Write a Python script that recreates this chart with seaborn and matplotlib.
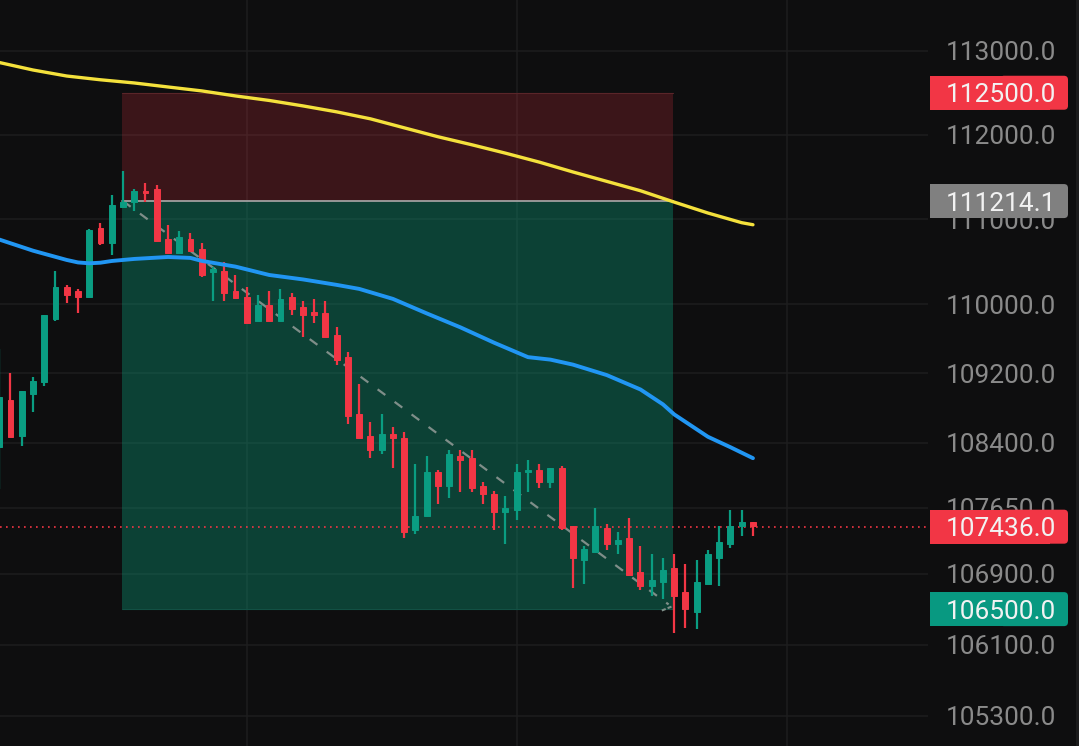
import matplotlib
matplotlib.use("Agg")
import matplotlib.pyplot as plt
from matplotlib.patches import FancyBboxPatch, Rectangle
from matplotlib.transforms import IdentityTransform
from matplotlib.ticker import NullLocator
import numpy as np
import pandas as pd
import seaborn as sns

# ---------- data ----------
candle_index = list(range(-11, 57))
opens = [108346,108885,108472,108954,109093,109833,110205,110158,110088,110897,110720,
         111144,111203,111333,111357,110767,110603,110767,110650,110380,110392,110158,110088,
         109809,109995,109809,110088,109972,109914,109902,109647,109393,108724,108472,108312,
         108495,108449,107401,107560,108061,107901,108243,108220,107901,107810,107605,107628,
         108061,108084,107947,108107,107446,107062,107152,107423,107243,107310,106925,106767,
         106812,106971,106699,106473,106790,107084,107243,107446,107492]
closes = [108920,108461,108989,109116,109879,110205,110112,110088,110873,110720,111168,
          111203,111333,111310,110743,110603,110791,110626,110345,110416,110135,110077,109786,
          109995,109809,110065,109949,109879,109879,109624,109358,108701,108449,108312,108495,
          108449,107378,107560,108061,107901,108266,108198,107878,107810,107605,107651,108061,
          108084,107947,108107,107423,107084,107186,107446,107243,107288,106891,106767,106835,
          106948,106654,106496,106812,107130,107265,107446,107492,107446]
highs = [109483,109208,109000,109162,109879,110392,110229,110182,110885,110956,111286,
         111569,111357,111428,111404,110932,110861,110838,110720,110439,110498,110345,110205,
         110112,110158,110182,110135,110042,110065,110042,109740,109450,109070,108632,108724,
         108575,108518,108152,108243,108084,108312,108312,108312,107947,107844,107787,108152,
         108198,108152,108107,108129,107446,107220,107651,107469,107378,107537,107220,107130,
         107084,107130,107016,107062,107175,107446,107628,107628,107492]
lows = [107867,108461,108357,108747,109047,109809,110019,109902,110088,110697,110580,
        111144,111097,111203,110743,110603,110603,110626,110322,110042,110042,110077,109786,
        109809,109809,109809,109879,109624,109786,109624,109300,108609,108449,108220,108266,
        108107,107310,107356,107560,107696,107764,107833,107833,107696,107401,107243,107515,
        107833,107878,107878,107401,106744,106790,107152,107175,107130,106880,106722,106654,
        106609,106225,106292,106270,106790,106767,107197,107333,107333]

blue_index = [-11,-8,-5,-4,-3,-2,-1,1,4,6,7,10,13,16,19,21,24,27,30,33,36,38,40,43,46,48,49,52,54,56]
blue_ma = [110761,110630,110521,110492,110482,110489,110509,110533,110556,110545,110510,
           110443,110345,110293,110229,110182,110065,109896,109733,109554,109387,109358,
           109300,109179,109012,108840,108724,108466,108346,108220]
yellow_index = [-11,-8,-5,-2,1,4,7,10,13,16,19,22,25,28,31,34,37,40,43,46,49,52,55,56]
yellow_ma = [112862,112772,112700,112655,112617,112569,112522,112462,112408,112343,112272,
             112189,112082,111976,111881,111781,111675,111558,111447,111336,111202,111073,
             110959,110935]

y_ticks = [113000,112000,111000,110000,109200,108400,107650,106900,106100,105300]
y_tick_labels = [f"{v:.1f}" for v in y_ticks]

stop_price = 112500.0
entry_price = 111214.1
target_price = 106500.0
last_price = 107436.0
box_start, box_end = -0.1, 48.9
path_index = [0, 48.5]
path_price = [111214, 106553]
head_index = [47.9, 49]
head_price = [106484, 106541]
time_grid = [11, 35, 59]

# ---------- style ----------
BG = "#0e0e0f"
GRID = "#1d1d1e"
UP = "#0a9d82"
DOWN = "#f23645"
LABEL = "#8a8a8a"
FONT_SIZE = 18.9

sns.set_theme(style="dark", rc={"axes.facecolor": BG, "figure.facecolor": BG})
plt.rcParams["font.family"] = ["Roboto", "DejaVu Sans"]
plt.rcParams["ytick.major.pad"] = 13

W, H = 1079, 746
fig = plt.figure(figsize=(W / 100, H / 100), dpi=100)
ax = fig.add_axes([0, 0, 928 / W, 1])
ax.set_yscale("log")
ax.set_ylim(104964, 113613)
ax.set_xlim(-10.933, 71.56)
ax.set_axisbelow(True)

for s in ax.spines.values():
    s.set_visible(False)

ax.yaxis.tick_right()
ax.set_yticks(y_ticks)
ax.set_yticklabels(y_tick_labels, color=LABEL, fontsize=FONT_SIZE)
ax.yaxis.set_minor_locator(NullLocator())
ax.set_xticks(time_grid)
ax.set_xticklabels([])
ax.tick_params(axis="both", length=0)
for tick in ax.yaxis.get_major_ticks():
    tick.set_pad(13)
ax.grid(True, color=GRID, lw=1.1)

# position boxes
ax.fill_between([box_start, box_end], entry_price, stop_price, color=DOWN, alpha=0.2, lw=0, zorder=1)
ax.fill_between([box_start, box_end], target_price, entry_price, color="#0a9a78", alpha=0.37, lw=0, zorder=1)
ax.plot([box_start, box_end], [stop_price] * 2, color="#5a2529", lw=0.8, zorder=1.5)
ax.plot([box_start, box_end], [target_price] * 2, color="#125044", lw=0.8, zorder=1.5)
ax.plot([box_start, box_end], [entry_price] * 2, color="#a0a0a0", lw=1.3, zorder=1.6)

# last price dotted line
ax.axhline(last_price, color=DOWN, lw=1.2, ls=(0, (1, 2.6)), zorder=1.8)

# dashed trade path
ax.plot(path_index, path_price, color="#7f8e89", lw=1.6, ls=(0, (4.3, 5.2)), zorder=2)
ax.plot(head_index, head_price, color="#7f8e89", lw=1.5, ls=(0, (2, 1)), zorder=2)

# candles
o, c, h, l = map(np.array, (opens, closes, highs, lows))
idx = np.array(candle_index)
colors = np.where(c >= o, UP, DOWN)
ax.vlines(idx, l, h, colors=colors, lw=1.6, zorder=3)
ax.bar(idx, np.abs(c - o), bottom=np.minimum(o, c), width=0.53, color=colors,
       edgecolor=colors, lw=0.7, zorder=3.1)

# moving averages
sns.lineplot(data=pd.DataFrame({"i": yellow_index, "p": yellow_ma}), x="i", y="p", ax=ax,
             color="#f4e13c", lw=2.4, zorder=4, estimator=None, sort=False)
sns.lineplot(data=pd.DataFrame({"i": blue_index, "p": blue_ma}), x="i", y="p", ax=ax,
             color="#2196f3", lw=2.8, zorder=4.1, estimator=None, sort=False)
ax.set_xlabel("")
ax.set_ylabel("")
ax.set_ylim(104964, 113613)
ax.set_xlim(-10.933, 71.56)

# faint strip at the very right edge
fig.add_artist(Rectangle((1076 / W, 0), 3 / W, 1, transform=fig.transFigure, fc="#1b1b1c", ec="none", zorder=1))

# price badges: square on the left, rounded on the right
def badge(price, text, color):
    y_px = ax.transData.transform((0, price))[1]
    rounded = FancyBboxPatch((1000, y_px - 17), 68, 34, boxstyle="round,pad=0,rounding_size=4",
                             transform=IdentityTransform(), fc=color, ec="none", zorder=5)
    square = Rectangle((930, y_px - 17), 120, 34, transform=IdentityTransform(),
                       fc=color, ec="none", zorder=5)
    fig.add_artist(rounded)
    fig.add_artist(square)
    fig.text(1001 / W, y_px / H, text, color="#f2f2f2", fontsize=FONT_SIZE, ha="center",
             va="center_baseline", zorder=6)

badge(stop_price, "112500.0", DOWN)
badge(entry_price, "111214.1", "#808080")
badge(last_price, "107436.0", DOWN)
badge(target_price, "106500.0", "#089981")

fig.savefig("out.png", dpi=100, facecolor=BG)
